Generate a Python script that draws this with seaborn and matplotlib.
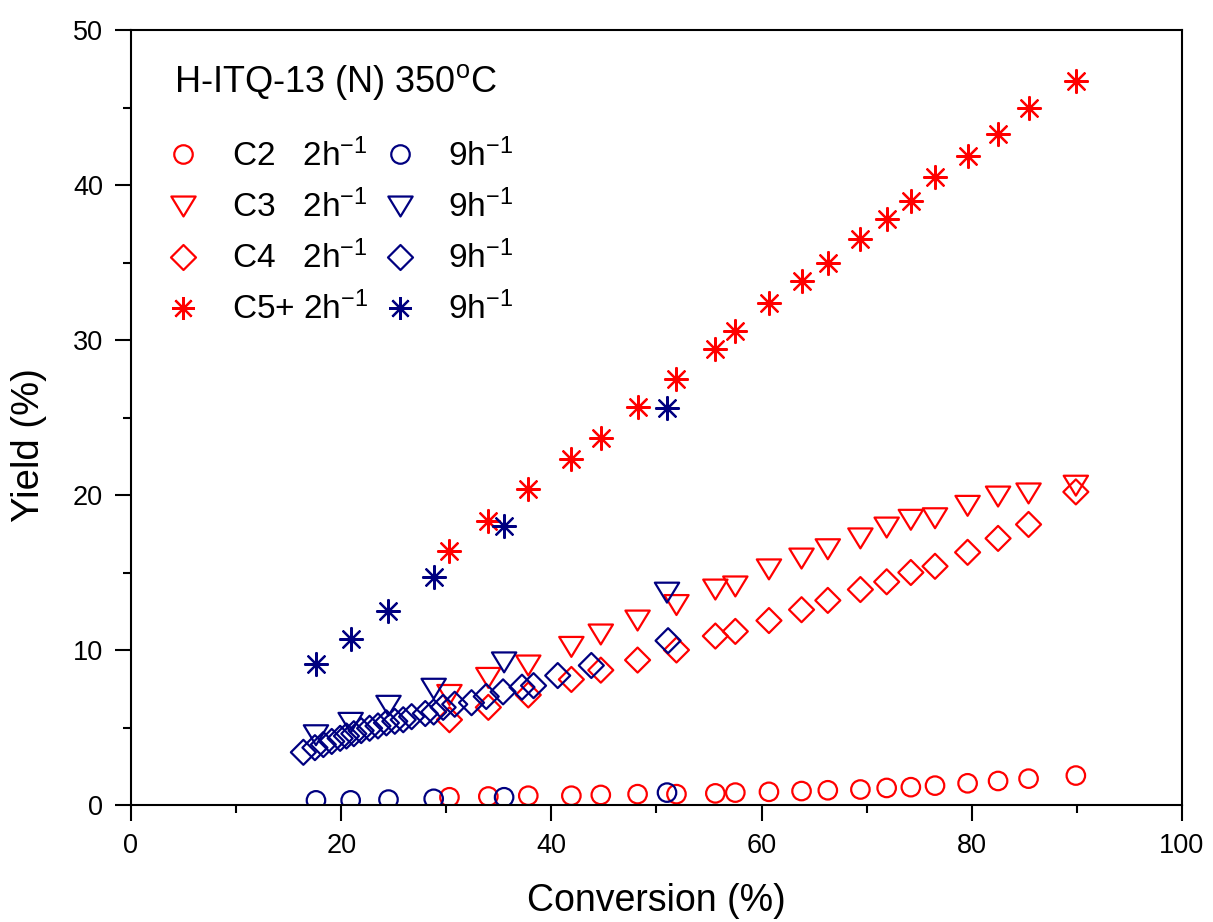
import numpy as np
import pandas as pd
import seaborn as sns
import matplotlib
matplotlib.use("Agg")
import matplotlib.pyplot as plt
from matplotlib.path import Path
from matplotlib.lines import Line2D
from matplotlib.ticker import MultipleLocator

# ---------------- data ----------------
conv_2h = [30.3, 34.0, 37.8, 41.9, 44.7, 48.2, 51.9, 55.6, 57.5, 60.7,
           63.8, 66.3, 69.4, 71.9, 74.2, 76.5, 79.6, 82.5, 85.4, 89.9]
c2_2h = [0.5, 0.55, 0.6, 0.6, 0.65, 0.7, 0.7, 0.75, 0.8, 0.85,
         0.9, 0.95, 1.0, 1.1, 1.15, 1.25, 1.4, 1.55, 1.7, 1.9]
c3_2h = [7.1, 8.2, 9.0, 10.2, 11.0, 11.9, 12.9, 13.9, 14.1, 15.2,
         15.9, 16.5, 17.2, 17.9, 18.4, 18.5, 19.3, 19.9, 20.1, 20.6]
c4_2h = [5.5, 6.3, 7.1, 8.1, 8.7, 9.35, 10.0, 10.9, 11.2, 11.9,
         12.6, 13.2, 13.9, 14.4, 15.0, 15.4, 16.3, 17.2, 18.1, 20.2]
c5_2h = [16.4, 18.3, 20.4, 22.3, 23.7, 25.7, 27.5, 29.4, 30.6, 32.4,
         33.8, 35.0, 36.5, 37.8, 39.0, 40.5, 41.9, 43.3, 45.0, 46.7]

conv_9h = [17.6, 20.9, 24.5, 28.8, 35.5, 51.0]
c2_9h = [0.3, 0.3, 0.35, 0.4, 0.5, 0.8]
c3_9h = [4.5, 5.3, 6.4, 7.5, 9.2, 13.7]
c5_9h = [9.1, 10.7, 12.5, 14.7, 18.0, 25.6]
conv_9h_c4 = [16.4, 17.5, 18.3, 19.1, 19.9, 20.5, 21.2, 21.9, 22.7, 23.5,
              24.3, 25.1, 25.9, 26.7, 28.0, 28.8, 29.7, 30.8, 32.4, 33.8,
              35.4, 37.2, 38.3, 40.6, 43.8, 51.1]
c4_9h = [3.4, 3.7, 3.9, 4.1, 4.3, 4.45, 4.6, 4.8, 4.95, 5.1,
         5.3, 5.4, 5.5, 5.7, 5.9, 6.0, 6.3, 6.5, 6.6, 7.0,
         7.3, 7.6, 7.7, 8.35, 9.0, 10.6]

labels_2h = ["C2   2h$^{-1}$", "C3   2h$^{-1}$", "C4   2h$^{-1}$", "C5+ 2h$^{-1}$"]
labels_9h = ["9h$^{-1}$", "9h$^{-1}$", "9h$^{-1}$", "9h$^{-1}$"]
title_text = "H-ITQ-13 (N) 350$^{\\mathrm{o}}$C"
xlabel = "Conversion (%)"
ylabel = "Yield (%)"

# ---------------- style ----------------
sns.set_style("ticks")
plt.rcParams["font.family"] = ["Liberation Sans", "DejaVu Sans"]
plt.rcParams["mathtext.fontset"] = "custom"
plt.rcParams["mathtext.rm"] = "Liberation Sans"
plt.rcParams["mathtext.it"] = "Liberation Sans:italic"
plt.rcParams["mathtext.bf"] = "Liberation Sans:bold"
plt.rcParams["text.color"] = "black"
plt.rcParams["axes.labelcolor"] = "black"
plt.rcParams["xtick.color"] = "black"
plt.rcParams["ytick.color"] = "black"
plt.rcParams["axes.edgecolor"] = "black"

RED = "#ff0000"
BLUE = "#000080"

tri = Path([(-1.0, 0.82), (1.0, 0.82), (0.0, -0.82), (-1.0, 0.82)],
           [Path.MOVETO, Path.LINETO, Path.LINETO, Path.CLOSEPOLY])
dia = Path([(0, 1), (1, 0), (0, -1), (-1, 0), (0, 1)],
           [Path.MOVETO, Path.LINETO, Path.LINETO, Path.LINETO, Path.CLOSEPOLY])
star = (8, 2, 0)

markers = ["o", tri, dia, star]
msize = [13.3, 17.5, 18.0, 16.5]   # marker sizes in points
LW = 1.6

fig = plt.figure(figsize=(12.13, 9.22), dpi=100)
ax = fig.add_axes([131 / 1213, 1 - 805 / 922, 1051 / 1213, 775 / 922])

series = [
    (conv_2h, c2_2h, 0, RED), (conv_2h, c3_2h, 1, RED), (conv_2h, c4_2h, 2, RED), (conv_2h, c5_2h, 3, RED),
    (conv_9h, c2_9h, 0, BLUE), (conv_9h, c3_9h, 1, BLUE), (conv_9h_c4, c4_9h, 2, BLUE), (conv_9h, c5_9h, 3, BLUE),
]
for xs, ys, mi, col in series:
    df = pd.DataFrame({"x": xs, "y": ys})
    if mi == 3:
        sns.scatterplot(data=df, x="x", y="y", ax=ax, marker=markers[mi],
                        s=msize[mi] ** 2, color=col, linewidth=LW, legend=False)
    else:
        sns.scatterplot(data=df, x="x", y="y", ax=ax, marker=markers[mi],
                        s=msize[mi] ** 2, color=col, facecolor="none",
                        edgecolor=col, linewidth=LW, legend=False)

ax.set_xlim(0, 100)
ax.set_ylim(0, 50)
ax.xaxis.set_major_locator(MultipleLocator(20))
ax.xaxis.set_minor_locator(MultipleLocator(10))
ax.yaxis.set_major_locator(MultipleLocator(10))
ax.yaxis.set_minor_locator(MultipleLocator(5))

for sp in ax.spines.values():
    sp.set_visible(True)
    sp.set_color("black")
    sp.set_linewidth(1.5)

ax.tick_params(which="major", direction="out", length=11.5, width=1.5,
               labelsize=19.5, pad=8.5, colors="black")
ax.tick_params(which="minor", direction="out", length=5.5, width=1.5)

ax.set_xlabel(xlabel, fontsize=27, color="black")
ax.set_ylabel(ylabel, fontsize=27.5, color="black")
ax.xaxis.set_label_coords(0.5, -0.101)
ax.yaxis.set_label_coords(-0.080, 0.4645)

# title text inside plot
ax.text(0.0405, 0.920, title_text, transform=ax.transAxes, fontsize=26,
        ha="left", va="baseline", color="black")

# legend
handles = []
for col in (RED, BLUE):
    for mi in range(4):
        if mi == 3:
            h = Line2D([], [], linestyle="none", marker=markers[mi], markersize=msize[mi],
                       color=col, markeredgewidth=LW)
        else:
            h = Line2D([], [], linestyle="none", marker=markers[mi], markersize=msize[mi],
                       markerfacecolor="none", markeredgecolor=col, markeredgewidth=LW)
        handles.append(h)
leg = ax.legend(handles, labels_2h + labels_9h, ncol=2, frameon=False,
                loc="upper left", bbox_to_anchor=(0.026, 0.860),
                fontsize=24, handlelength=1.5, handletextpad=0.70,
                columnspacing=0.2, labelspacing=0.5, borderpad=0, borderaxespad=0,
                labelcolor="black")

fig.savefig("out.png", dpi=100)
